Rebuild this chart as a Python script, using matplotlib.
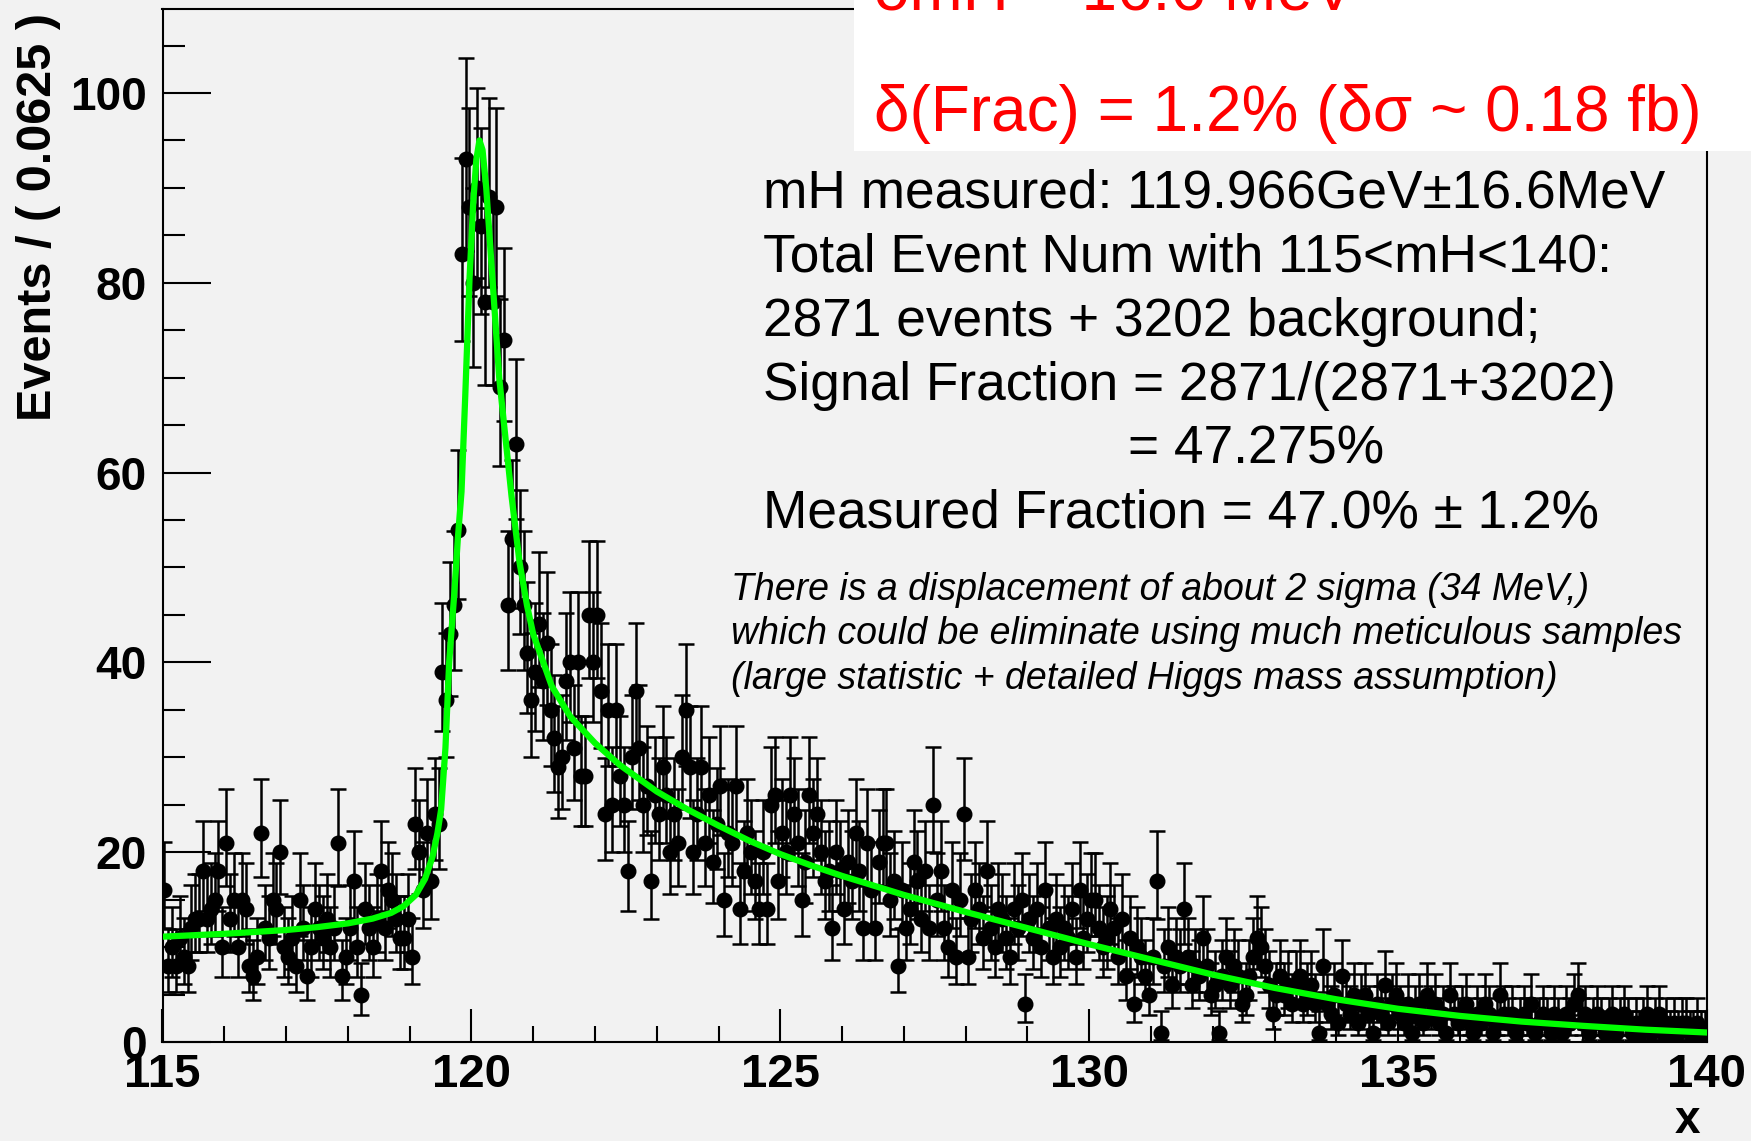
import numpy as np
import matplotlib
matplotlib.use("Agg")
import matplotlib.pyplot as plt
from matplotlib.patches import Rectangle
from matplotlib.ticker import MultipleLocator, FixedLocator

plt.rcParams['font.family'] = ['Liberation Sans', 'DejaVu Sans']

# ---- histogram: 400 bins of 0.0625 GeV between 115 and 140 ----
x_lo, x_hi, n_bins = 115.0, 140.0, 400
counts = [
    16, 8, 10, 8, 11, 9, 8, 12, 13, 13, 18, 13, 14, 15, 18, 10,
    21, 13, 15, 10, 15, 14, 8, 7, 9, 22, 12, 11, 15, 14, 20, 10,
    9, 11, 8, 15, 12, 7, 10, 14, 12, 11, 13, 10, 12, 21, 7, 9,
    12, 17, 10, 5, 14, 12, 10, 13, 18, 12, 16, 15, 13, 11, 11, 13,
    9, 23, 20, 16, 22, 17, 24, 23, 39, 36, 43, 46, 54, 83, 93, 88,
    80, 90, 86, 78, 89, 78, 88, 69, 74, 46, 53, 63, 50, 46, 41, 36,
    39, 44, 38, 42, 35, 32, 29, 30, 38, 40, 31, 40, 28, 28, 45, 40,
    45, 37, 24, 35, 25, 35, 28, 25, 18, 30, 37, 31, 25, 27, 17, 26,
    24, 29, 26, 20, 24, 21, 30, 35, 29, 20, 24, 29, 21, 26, 19, 23,
    27, 15, 22, 21, 27, 14, 18, 22, 20, 17, 14, 20, 14, 25, 26, 17,
    22, 20, 26, 24, 21, 15, 19, 26, 22, 24, 20, 17, 18, 12, 20, 18,
    14, 19, 17, 22, 18, 12, 21, 16, 12, 19, 21, 21, 15, 17, 8, 16,
    12, 14, 19, 17, 13, 18, 12, 25, 15, 18, 12, 10, 16, 9, 15, 24,
    9, 13, 16, 14, 11, 18, 12, 10, 14, 13, 11, 9, 14, 12, 15, 4,
    13, 11, 14, 10, 16, 12, 9, 13, 10, 12, 11, 14, 9, 16, 11, 13,
    15, 15, 12, 10, 11, 14, 12, 9, 13, 7, 11, 4, 10, 9, 7, 5,
    9, 17, 1, 8, 10, 6, 9, 8, 14, 9, 6, 8, 7, 11, 8, 5,
    6, 1, 7, 9, 6, 8, 7, 4, 5, 7, 9, 11, 10, 8, 6, 3,
    5, 7, 5, 6, 4, 6, 7, 4, 5, 6, 4, 1, 8, 4, 3, 5,
    2, 7, 4, 3, 5, 2, 4, 5, 3, 1, 4, 3, 6, 2, 4, 5,
    3, 2, 4, 1, 3, 4, 2, 5, 3, 4, 2, 3, 1, 5, 3, 2,
    3, 4, 2, 1, 3, 2, 4, 3, 1, 2, 5, 3, 2, 3, 1, 2,
    3, 2, 4, 1, 2, 3, 2, 1, 3, 2, 1, 3, 2, 4, 5, 2,
    3, 1, 2, 3, 2, 1, 2, 3, 1, 2, 3, 2, 1, 2, 1, 2,
    3, 1, 2, 3, 1, 2, 1, 2, 1, 2, 2, 1, 1, 2, 1, 1,
]

# ---- fitted signal + background model ----
curve_x = [115.0, 116.0, 117.0, 117.5, 118.0, 118.4, 118.7, 118.9, 119.1,
           119.25, 119.37, 119.45, 119.51, 119.58, 119.64, 119.72, 119.78,
           119.84, 119.9, 119.97, 120.03, 120.08, 120.13, 120.18, 120.24,
           120.34, 120.45, 120.57, 120.65, 120.78, 120.9, 121.0, 121.3,
           121.6, 122.0, 122.4, 123.0, 123.5, 124.0, 124.5, 125.0, 125.5,
           126.0, 127.0, 128.0, 129.0, 130.0, 131.0, 132.0, 133.0, 134.0,
           135.0, 136.0, 137.0, 138.0, 139.0, 140.0]
curve_y = [11.1, 11.4, 11.8, 12.1, 12.5, 13.0, 13.6, 14.3, 15.5,
           17.2, 19.5, 22.0, 24.5, 31.0, 40.0, 47.0, 53.0,
           58.0, 68.0, 80.5, 88.5, 93.0, 95.0, 94.0, 90.0,
           80.5, 70.0, 62.5, 57.5, 50.5, 46.0, 43.0, 37.5,
           34.3, 31.5, 29.2, 26.4, 24.5, 22.8, 21.2, 19.8, 18.6,
           17.5, 15.5, 13.7, 12.0, 10.3, 8.7, 7.1, 5.7, 4.5,
           3.5, 2.75, 2.15, 1.7, 1.3, 1.0]

x_ticks = [115, 120, 125, 130, 135, 140]
y_ticks = [0, 20, 40, 60, 80, 100]

info_lines = [
    "mH measured: 119.966GeV\u00b116.6MeV",
    "Total Event Num with 115<mH<140:",
    "2871 events + 3202 background;",
    "Signal Fraction = 2871/(2871+3202)",
]
info_result = "= 47.275%"
info_last = "Measured Fraction = 47.0% \u00b1 1.2%"
note_lines = [
    "There is a displacement of about 2 sigma (34 MeV,)",
    "which could be eliminate using much meticulous samples",
    "(large statistic + detailed Higgs mass assumption)",
]
red_lines = ["\u03b4mH = 16.6 MeV", "\u03b4(Frac) = 1.2% (\u03b4\u03c3 ~ 0.18 fb)"]

# ---- bin centres and Poisson (Gehrels) 68% intervals ----
width = (x_hi - x_lo) / n_bins
centres = x_lo + (np.arange(n_bins) + 0.5) * width
n = np.array(counts, dtype=float)
nn = np.maximum(n, 1)
lower = np.where(n > 0, n * (1 - 1 / (9 * nn) - 1 / (3 * np.sqrt(nn))) ** 3, 0.0)
upper = (n + 1) * (1 - 1 / (9 * (n + 1)) + 1 / (3 * np.sqrt(n + 1))) ** 3

W, H = 1751, 1141
bg = '#f2f2f2'
fig = plt.figure(figsize=(W / 100, H / 100), dpi=100, facecolor=bg)
ax_l, ax_r, ax_t, ax_b = 162.5, 1707, 9, 1042
ax = fig.add_axes([ax_l / W, 1 - ax_b / H, (ax_r - ax_l) / W, (ax_b - ax_t) / H], facecolor=bg)

ax.errorbar(centres, n, yerr=[n - lower, upper - n], fmt='o', color='black',
            ms=10.5, elinewidth=1.8, capsize=5.5, capthick=1.8, zorder=2)
ax.plot(curve_x, curve_y, color='#00ff00', lw=4.5, zorder=3,
        solid_joinstyle='round', solid_capstyle='round')

ax.set_xlim(x_lo, x_hi)
ax.set_ylim(0, 108.85)

for s in ax.spines.values():
    s.set_linewidth(1.5)

ax.xaxis.set_major_locator(FixedLocator(x_ticks))
ax.xaxis.set_minor_locator(MultipleLocator(1))
ax.yaxis.set_major_locator(FixedLocator(y_ticks))
ax.yaxis.set_minor_locator(MultipleLocator(5))
ax.tick_params(axis='x', which='major', direction='in', length=23.8, width=1.5,
               pad=8, labelsize=34)
ax.tick_params(axis='x', which='minor', direction='in', length=11.5, width=1.5)
ax.tick_params(axis='y', which='major', direction='in', length=34.6, width=1.5,
               pad=11.5, labelsize=33)
ax.tick_params(axis='y', which='minor', direction='in', length=15.8, width=1.5)
ax.set_xticklabels([str(v) for v in x_ticks])
ax.set_yticklabels([str(v) for v in y_ticks])
for lbl in ax.get_xticklabels() + ax.get_yticklabels():
    lbl.set_fontweight('bold')

fig.text(1700 / W, 1 - 1133 / H, 'x', ha='right', va='baseline',
         fontsize=33, fontweight='bold')
fig.text(39 / W, 1 - 13 / H, 'Events / ( 0.0625 )', rotation=90, ha='center',
         va='top', fontsize=35, fontweight='bold')

# white summary box in the upper right corner
fig.add_artist(Rectangle((854 / W, 1 - 151 / H), 1, 151 / H, transform=fig.transFigure,
                         facecolor='white', edgecolor='none', zorder=10))
for txt, base in zip(red_lines, [9, 131]):
    fig.text(874 / W, 1 - base / H, txt, va='baseline', ha='left',
             fontsize=46, color='red', zorder=11)

for txt, base in zip(info_lines, [208, 272, 336, 400]):
    fig.text(763 / W, 1 - base / H, txt, va='baseline', ha='left', fontsize=38.3)
fig.text(1128 / W, 1 - 463 / H, info_result, va='baseline', ha='left', fontsize=38.3)
fig.text(763 / W, 1 - 527 / H, info_last, va='baseline', ha='left', fontsize=38.3)

for txt, base in zip(note_lines, [600, 644, 689]):
    fig.text(731 / W, 1 - base / H, txt, va='baseline', ha='left',
             fontsize=27, style='italic')

fig.savefig('out.png', dpi=100, facecolor=bg)
